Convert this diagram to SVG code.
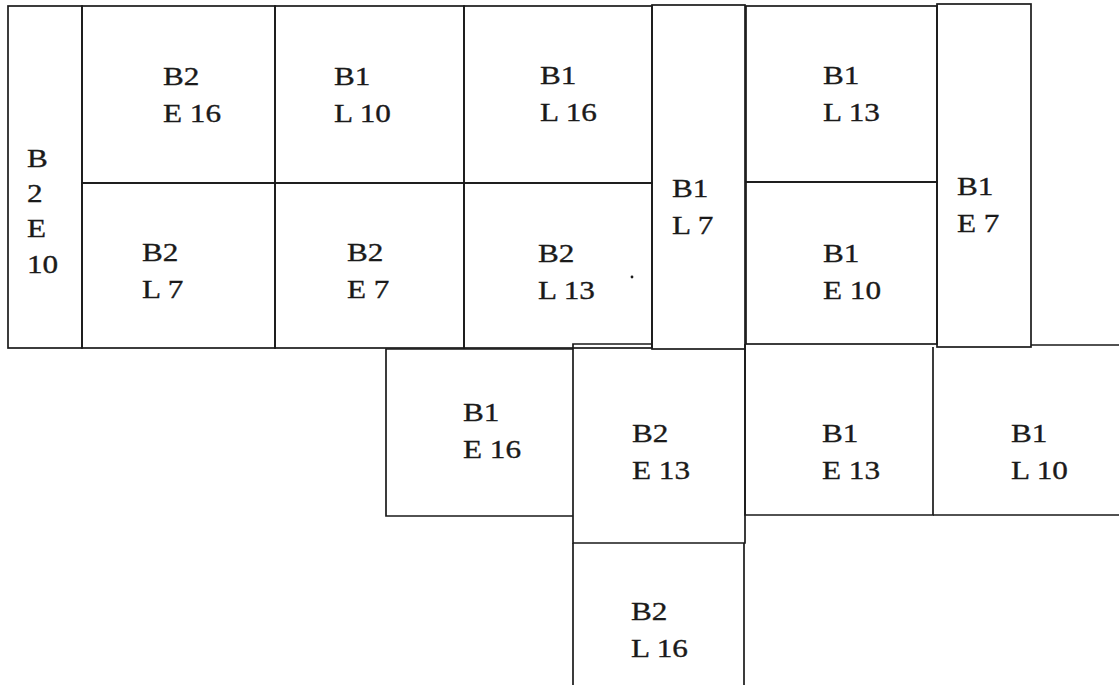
<svg xmlns="http://www.w3.org/2000/svg" width="1119" height="685" viewBox="0 0 1119 685">
<style>
.box{fill:none;stroke:#1a1a1a;stroke-width:1.7}
.t{font-family:"Liberation Serif","Times New Roman",serif;font-size:26px;fill:#1a1a1a;stroke:#1a1a1a;stroke-width:0.35}
</style>
<rect width="1119" height="685" fill="#ffffff"/>
<g id="B2E10"><rect class="box" x="8" y="6" width="74" height="342"/>
<text class="t" transform="translate(27,167) scale(1.2 1)"><tspan x="0" y="0">B</tspan><tspan x="0" y="35">2</tspan><tspan x="0" y="70">E</tspan><tspan x="0" y="106">10</tspan></text></g>
<g id="B2E16"><rect class="box" x="82" y="6" width="193" height="177"/>
<text class="t" transform="translate(163,85) scale(1.2 1)"><tspan x="0" y="0">B2</tspan><tspan x="0" y="37">E 16</tspan></text></g>
<g id="B1L10a"><rect class="box" x="275" y="6" width="189" height="177"/>
<text class="t" transform="translate(334,85) scale(1.2 1)"><tspan x="0" y="0">B1</tspan><tspan x="0" y="37">L 10</tspan></text></g>
<g id="B1L16"><rect class="box" x="464" y="6" width="188" height="177"/>
<text class="t" transform="translate(540,84) scale(1.2 1)"><tspan x="0" y="0">B1</tspan><tspan x="0" y="37">L 16</tspan></text></g>
<g id="B2L7"><rect class="box" x="82" y="183" width="193" height="165"/>
<text class="t" transform="translate(142,261) scale(1.2 1)"><tspan x="0" y="0">B2</tspan><tspan x="0" y="37">L 7</tspan></text></g>
<g id="B2E7"><rect class="box" x="275" y="183" width="189" height="165"/>
<text class="t" transform="translate(347,261) scale(1.2 1)"><tspan x="0" y="0">B2</tspan><tspan x="0" y="37">E 7</tspan></text></g>
<g id="B2L13"><rect class="box" x="464" y="183" width="188" height="165"/>
<text class="t" transform="translate(538,262) scale(1.2 1)"><tspan x="0" y="0">B2</tspan><tspan x="0" y="37">L 13</tspan></text>
<circle cx="632" cy="277" r="1.4" fill="#1a1a1a"/></g>
<g id="B1L7"><rect class="box" x="652" y="5" width="93" height="344"/>
<text class="t" transform="translate(672,197) scale(1.2 1)"><tspan x="0" y="0">B1</tspan><tspan x="0" y="37">L 7</tspan></text></g>
<g id="B1L13"><rect class="box" x="746" y="6" width="191" height="176"/>
<text class="t" transform="translate(823,84) scale(1.2 1)"><tspan x="0" y="0">B1</tspan><tspan x="0" y="37">L 13</tspan></text></g>
<g id="B1E10"><rect class="box" x="746" y="182" width="191" height="162"/>
<text class="t" transform="translate(823,262) scale(1.2 1)"><tspan x="0" y="0">B1</tspan><tspan x="0" y="37">E 10</tspan></text></g>
<g id="B1E7"><rect class="box" x="937" y="4" width="94" height="343"/>
<text class="t" transform="translate(957,195) scale(1.2 1)"><tspan x="0" y="0">B1</tspan><tspan x="0" y="37">E 7</tspan></text></g>
<g id="B1E16"><path class="box" d="M573,349 H386 V516 H573"/>
<text class="t" transform="translate(463,421) scale(1.2 1)"><tspan x="0" y="0">B1</tspan><tspan x="0" y="37">E 16</tspan></text></g>
<g id="B2E13"><path class="box" d="M652,344 H573 V543 H745 V349"/>
<text class="t" transform="translate(632,442) scale(1.2 1)"><tspan x="0" y="0">B2</tspan><tspan x="0" y="37">E 13</tspan></text></g>
<g id="B2L16"><path class="box" d="M573,543 V690 M744,543 V690"/>
<text class="t" transform="translate(631,620) scale(1.2 1)"><tspan x="0" y="0">B2</tspan><tspan x="0" y="37">L 16</tspan></text></g>
<g id="B1E13"><path class="box" d="M745,344 V515 H933 V347"/>
<text class="t" transform="translate(822,442) scale(1.2 1)"><tspan x="0" y="0">B1</tspan><tspan x="0" y="37">E 13</tspan></text></g>
<g id="B1L10b"><path class="box" d="M1031,345 H1121 M933,515 H1121"/>
<text class="t" transform="translate(1011,442) scale(1.2 1)"><tspan x="0" y="0">B1</tspan><tspan x="0" y="37">L 10</tspan></text></g>
<g id="connectors"></g>
</svg>
